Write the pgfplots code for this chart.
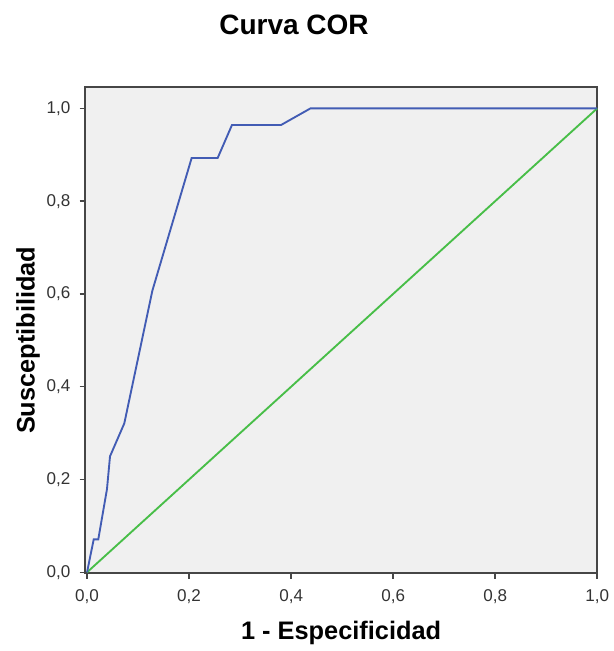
\documentclass[border=0pt]{standalone}
\usepackage{fontspec}
\setmainfont{Liberation Sans}
\usepackage{pgfplots}
\pgfplotsset{compat=1.18}

\definecolor{rocblue}{RGB}{66,92,180}
\definecolor{refgreen}{RGB}{72,190,72}
\definecolor{plotbg}{RGB}{240,240,240}
\definecolor{framegray}{RGB}{70,70,70}

\begin{document}
\begin{tikzpicture}
\begin{axis}[
    scale only axis,
    width=384pt,
    height=364.5pt,
    xmin=-0.004, xmax=1.0,
    ymin=-0.002, ymax=1.046,
    xtick={0,0.2,0.4,0.6,0.8,1.0},
    ytick={0,0.2,0.4,0.6,0.8,1.0},
    axis background/.style={fill=plotbg},
    axis line style={framegray, line width=1.1pt},
    tick style={framegray, line width=1.1pt},
    tick align=outside,
    major tick length=4pt,
    xtick pos=bottom, ytick pos=left,
    tick label style={font=\fontsize{12.8}{14}\selectfont, text=black!80},
    xticklabel style={yshift=-4.5pt},
    yticklabel style={xshift=-3.5pt},
    /pgf/number format/.cd, use comma, fixed, fixed zerofill, precision=1, assume math mode=true,
    /pgfplots/.cd,
    xlabel={\textbf{1 - Especificidad}},
    ylabel={\textbf{Susceptibilidad}},
    label style={font=\fontsize{19}{22}\selectfont},
    xlabel style={at={(rel axis cs:0.5,-0.1235)}, anchor=center},
    ylabel style={at={(rel axis cs:-0.111,0.479)}, anchor=center},
    clip=false,
]
\path (rel axis cs:-0.166,-0.160) rectangle (rel axis cs:1.029,1.179);
\node[font=\bfseries\fontsize{21}{24}\selectfont] at (rel axis cs:0.408,1.127) {Curva COR};

\addplot[refgreen, line width=1.4pt] coordinates {(0,0) (1,1)};

\addplot[rocblue, line width=1.4pt] coordinates {
    (0,0) (0.013,0.071) (0.022,0.071) (0.039,0.179) (0.045,0.25)
    (0.073,0.321) (0.128,0.607) (0.205,0.893) (0.256,0.893)
    (0.284,0.964) (0.38,0.964) (0.438,1.0) (1.0,1.0)
};
\end{axis}
\end{tikzpicture}
\end{document}
